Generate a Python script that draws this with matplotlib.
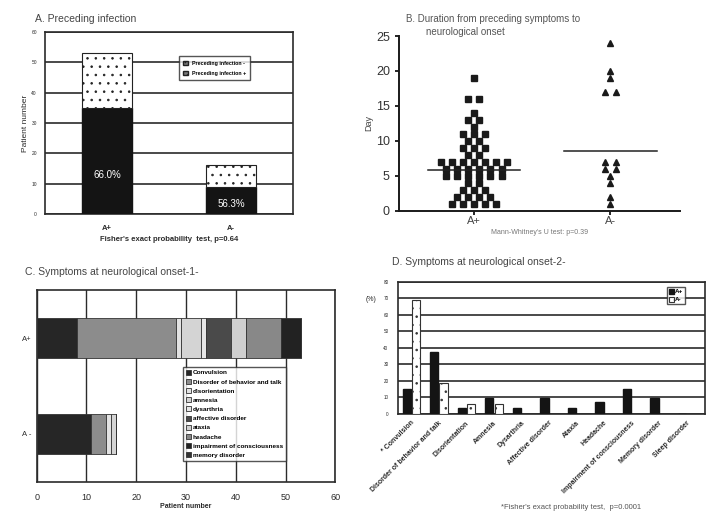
import numpy as np
import matplotlib
matplotlib.use('Agg')
import matplotlib.pyplot as plt
from collections import Counter

plt.rcParams['font.family'] = ['Liberation Sans', 'DejaVu Sans']
plt.rcParams['hatch.linewidth'] = 0.6
ink = '#2b2b2b'

# A. preceding infection (patient numbers)
groups = ['A+', 'A-']
infection_pos = [35, 9]
infection_neg = [18, 7]
pct_labels = ['66.0%', '56.3%']

# B. days from preceding symptoms to neurological onset
days_a_pos = [19, 16, 16, 14, 13, 13, 12, 11, 11, 11, 10, 10, 9, 9, 9, 8, 8,
              7, 7, 7, 7, 7, 7, 7, 6, 6, 6, 6, 6, 6, 5, 5, 5, 5, 5, 5,
              4, 4, 3, 3, 3, 2, 2, 2, 2, 1, 1, 1, 1, 1]
days_a_neg = [24, 20, 19, 17, 17, 7, 7, 6, 6, 5, 4, 2, 1]
center_lines = [5.8, 8.5]

# C. symptoms at onset, stacked patient numbers
symptoms_c = ['Convulsion', 'Disorder of behavior and talk', 'disorientation',
              'amnesia', 'dysarthria', 'affective disorder', 'ataxia',
              'headache', 'impairment of consciousness', 'memory disorder']
c_a_pos = [8, 20, 1, 4, 1, 5, 3, 7, 4, 0]
c_a_neg = [11, 3, 1, 1, 0, 0, 0, 0, 0, 0]
c_colors = ['#262626', '#8c8c8c', '#e2e2e2', '#d4d4d4', '#e6e6e6',
            '#4a4a4a', '#cfcfcf', '#888888', '#222222', '#333333']

# D. symptoms at onset, percent of patients
symptoms_d = ['* Convulsion', 'Disorder of behavior and talk', 'Disorientation',
              'Amnesia', 'Dysarthria', 'Affective disorder', 'Ataxia',
              'Headache', 'Impairment of consciousness', 'Memory disorder',
              'Sleep disorder']
d_a_pos = [15.1, 37.7, 3.8, 9.4, 3.8, 9.4, 3.8, 7.5, 15.1, 9.4, 0]
d_a_neg = [68.8, 18.8, 6.3, 6.3, 0, 0, 0, 0, 0, 0, 0]


def swarm(vals, step):
    # spread equal values side by side around the group centre
    counts = Counter(vals)
    seen = Counter()
    offs = []
    for v in vals:
        n = counts[v]
        offs.append((seen[v] - (n - 1) / 2) * step)
        seen[v] += 1
    return np.array(offs)


fig = plt.figure(figsize=(7.06, 5.22), dpi=100)

# ---- panel A
axA = fig.add_axes([0.064, 0.590, 0.351, 0.349])
x = np.arange(len(groups))
axA.bar(x, infection_pos, 0.4, color='#141414', edgecolor='#141414', zorder=3)
axA.bar(x, infection_neg, 0.4, bottom=infection_pos, color='white',
        edgecolor='#222', hatch='..', linewidth=0.8, zorder=3)
for xi, p, lab in zip(x, infection_pos, pct_labels):
    axA.text(xi, p * 0.37, lab, color='white', ha='center', va='center',
             fontsize=7, zorder=4)
axA.set_xlim(-0.5, 1.5)
axA.set_ylim(0, 60)
axA.set_yticks(range(0, 61, 10))
axA.yaxis.grid(True, color=ink, linewidth=1.2)
axA.set_axisbelow(True)
axA.tick_params(axis='y', labelsize=3.5, length=0, pad=6, labelcolor=ink)
axA.set_xticks(x)
axA.set_xticklabels(groups, fontsize=5.5, fontweight='bold', color=ink)
axA.tick_params(axis='x', length=0, pad=8)
axA.set_ylabel('Patient number', fontsize=6, color=ink, labelpad=2)
axA.set_xlabel("Fisher's exact probability  test, p=0.64", fontsize=5.5,
               fontweight='bold', color=ink, labelpad=3)
for s in axA.spines.values():
    s.set_color(ink)
    s.set_linewidth(1.2)
hA = [plt.Rectangle((0, 0), 1, 1, facecolor='#777', edgecolor='#222', hatch='....'),
      plt.Rectangle((0, 0), 1, 1, facecolor='#777', edgecolor='#222', hatch='....')]
legA = axA.legend(hA, ['Preceding infection -', 'Preceding infection +'],
                  loc='upper left', bbox_to_anchor=(0.53, 0.88), fontsize=3.8,
                  frameon=True, fancybox=False, edgecolor=ink, handlelength=0.8,
                  handleheight=0.8, borderpad=0.8, labelspacing=1.0)
for t in legA.get_texts():
    t.set_fontweight('bold')
legA.get_frame().set_linewidth(1.0)
fig.text(0.05, 0.957, 'A. Preceding infection', fontsize=7.5, color='#444')

# ---- panel B
axB = fig.add_axes([0.565, 0.596, 0.398, 0.335])
sq_x = 1 + swarm(days_a_pos, 0.081)
tr_x = 2 + swarm(days_a_neg, 0.081)
axB.plot(sq_x, days_a_pos, 's', color='#1a1a1a', markersize=4.3, linestyle='none')
axB.plot(tr_x, days_a_neg, '^', color='#1a1a1a', markersize=5, linestyle='none')
for xc, m in zip([1, 2], center_lines):
    axB.plot([xc - 0.34, xc + 0.34], [m, m], color='#222', linewidth=1.1)
axB.set_xlim(0.45, 2.51)
axB.set_ylim(0, 25)
axB.set_yticks(range(0, 26, 5))
axB.set_xticks([1, 2])
axB.set_xticklabels(['A+', 'A-'], fontsize=8, color='#444')
axB.tick_params(axis='y', labelsize=9, labelcolor='#333', width=1.2, length=3)
axB.tick_params(axis='x', width=1.2, length=3, pad=1)
for side in ['top', 'right']:
    axB.spines[side].set_visible(False)
for side in ['left', 'bottom']:
    axB.spines[side].set_linewidth(1.4)
    axB.spines[side].set_color('#1a1a1a')
axB.set_ylabel('Day', fontsize=6.5, color='#444', labelpad=2)
axB.set_xlabel("Mann-Whitney's U test: p=0.39", fontsize=5, color='#777', labelpad=2)
fig.text(0.575, 0.958, 'B. Duration from preceding symptoms to', fontsize=7,
         color='#555')
fig.text(0.604, 0.932, 'neurological onset', fontsize=7, color='#555')

# ---- panel C
axC = fig.add_axes([0.052, 0.077, 0.423, 0.367])
yC = [1, 0]
left_pos = np.concatenate([[0], np.cumsum(c_a_pos)[:-1]])
left_neg = np.concatenate([[0], np.cumsum(c_a_neg)[:-1]])
for i, name in enumerate(symptoms_c):
    axC.barh(yC, [c_a_pos[i], c_a_neg[i]], 0.42,
             left=[left_pos[i], left_neg[i]], color=c_colors[i],
             edgecolor='#333', linewidth=0.6, label=name, zorder=3)
axC.set_xlim(0, 60)
axC.set_ylim(-0.5, 1.5)
axC.set_xticks(range(0, 61, 10))
axC.xaxis.grid(True, color=ink, linewidth=1.0)
axC.set_axisbelow(True)
axC.set_yticks(yC)
axC.set_yticklabels(['A+', 'A -'], fontsize=5.5, color=ink)
axC.tick_params(axis='both', length=0, labelcolor=ink)
axC.tick_params(axis='x', labelsize=6.5, pad=8)
axC.set_xlabel('Patient number', fontsize=5, fontweight='bold', color=ink,
               labelpad=1)
for s in axC.spines.values():
    s.set_color(ink)
    s.set_linewidth(1.2)
legC = axC.legend(loc='upper left', bbox_to_anchor=(0.48, 0.615), fontsize=4.6,
                  frameon=True, fancybox=False, edgecolor=ink, handlelength=0.8,
                  handleheight=0.8, borderpad=0.4, labelspacing=0.55,
                  handletextpad=0.3)
for t in legC.get_texts():
    t.set_fontweight('bold')
legC.get_frame().set_linewidth(1.0)
fig.text(0.035, 0.473, 'C. Symptoms at neurological onset-1-', fontsize=7.5,
         color='#444')

# ---- panel D
axD = fig.add_axes([0.564, 0.207, 0.435, 0.253])
xd = np.arange(len(symptoms_d))
axD.bar(xd - 0.14, d_a_pos, 0.3, color='#141414', edgecolor='#141414',
        label='A+', zorder=3)
axD.bar(xd + 0.2, d_a_neg, 0.3, color='white', edgecolor='#333', hatch='..',
        linewidth=0.8, label='A-', zorder=3)
axD.set_xlim(-0.45, 10.7)
axD.set_ylim(0, 80)
axD.set_yticks(range(0, 81, 10))
axD.yaxis.grid(True, color=ink, linewidth=1.2)
axD.set_axisbelow(True)
axD.tick_params(axis='y', labelsize=3.3, length=0, pad=7, labelcolor=ink)
axD.set_xticks(xd)
axD.set_xticklabels(symptoms_d, rotation=45, ha='right', rotation_mode='anchor',
                    fontsize=5, fontweight='bold', color=ink)
axD.tick_params(axis='x', length=0, pad=4)
for s in axD.spines.values():
    s.set_color(ink)
    s.set_linewidth(1.2)
legD = axD.legend(loc='upper right', bbox_to_anchor=(0.945, 0.985), fontsize=4.5,
                  frameon=True, fancybox=False, edgecolor=ink, handlelength=0.8,
                  handleheight=0.8, borderpad=0.3, labelspacing=0.4,
                  handletextpad=0.2)
for t in legD.get_texts():
    t.set_fontweight('bold')
legD.get_frame().set_linewidth(1.0)
fig.text(0.518, 0.424, '(%)', fontsize=5, color=ink)
fig.text(0.555, 0.493, 'D. Symptoms at neurological onset-2-', fontsize=7.5,
         color='#444')
fig.text(0.71, 0.025, "*Fisher's exact probability test,  p=0.0001", fontsize=5.5,
         color='#555')

fig.savefig('out.png', dpi=100)
